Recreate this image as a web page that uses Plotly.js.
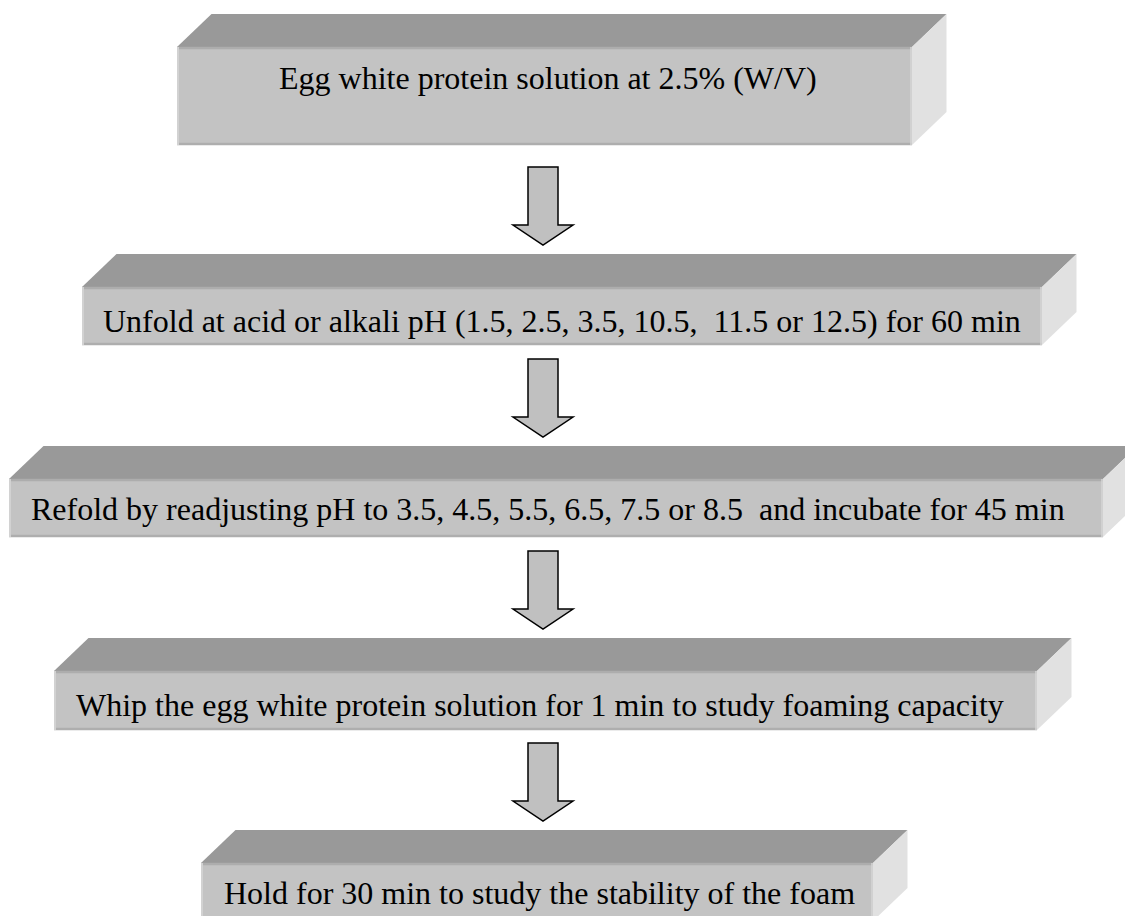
<!DOCTYPE html>
<html>
<head>
<meta charset="utf-8">
<script src="https://cdn.plot.ly/plotly-3.0.1.min.js"></script>
<style>html,body{margin:0;padding:0;background:#fff;}#chart{width:1125px;height:916px;}</style>
</head>
<body>
<div id="chart"></div>
<script>
// ---- data: flowchart steps ----
const steps = [
  "Egg white protein solution at 2.5% (W/V)",
  "Unfold at acid or alkali pH (1.5, 2.5, 3.5, 10.5,\u00a0 11.5 or 12.5) for 60 min",
  "Refold by readjusting pH to 3.5, 4.5, 5.5, 6.5, 7.5 or 8.5\u00a0 and incubate for 45 min",
  "Whip the egg white protein solution for 1 min to study foaming capacity",
  "Hold for 30 min to study the stability of the foam"
];

// ---- layout geometry (pixels in a 1125x916 frame) ----
const boxLeft   = [177, 82, 9, 54, 201];
const boxRight  = [912, 1042, 1103, 1037, 873];
const boxTop    = [47, 287, 479, 671, 863];
const boxBottom = [145, 345, 537, 730, 921];
const textLeft  = [277, 101, 29, 74, 222];
const textMidY  = [78, 321, 509, 705, 893];
const arrowTop  = [167, 359, 551, 743];
const arrowTip  = [245, 437, 629, 821];
const DX = 34.5, DY = 33;
const arrowCx = 543, shaftHalf = 15, headHalf = 30, headH = 20;

const topCol = "#999999", frontCol = "#c3c3c3", sideCol = "#e1e1e1";

const shapes = [];
function poly(pts, fill, line) {
  let d = "M" + pts.map(p => p[0] + "," + p[1]).join(" L") + " Z";
  shapes.push({type: "path", xref: "x", yref: "y", path: d, fillcolor: fill,
    line: line || {width: 0}, layer: "above"});
}
function seg(x0, y0, x1, y1, col, w) {
  shapes.push({type: "line", xref: "x", yref: "y", x0, y0, x1, y1,
    line: {color: col, width: w}, layer: "above"});
}

steps.forEach((s, i) => {
  const l = boxLeft[i], r = boxRight[i], t = boxTop[i], b = boxBottom[i];
  // top face
  poly([[l, t], [l + DX, t - DY], [r + DX, t - DY], [r, t]], topCol);
  // right side face
  poly([[r, t], [r + DX, t - DY], [r + DX, b - DY], [r, b]], sideCol);
  // front face
  poly([[l, t], [r, t], [r, b], [l, b]], frontCol);
  // bevel edges
  seg(l, t + 1, r, t + 1, "#adadad", 2.5);
  seg(l, b - 1, r, b - 1, "#aeaeae", 2.5);
  seg(l + 1, t, l + 1, b, "#d2d2d2", 2);
  seg(r - 1, t, r - 1, b, "#d6d6d6", 1.5);
});

arrowTop.forEach((a, i) => {
  const tip = arrowTip[i], hb = tip - headH;
  poly([[arrowCx - shaftHalf, a], [arrowCx + shaftHalf, a], [arrowCx + shaftHalf, hb],
        [arrowCx + headHalf, hb], [arrowCx, tip], [arrowCx - headHalf, hb],
        [arrowCx - shaftHalf, hb]], "#c0c0c0", {color: "#000", width: 1.5});
});

const annotations = steps.map((s, i) => ({
  x: textLeft[i], y: textMidY[i], xref: "x", yref: "y", text: s,
  showarrow: false, xanchor: "left", yanchor: "middle",
  font: {family: "Liberation Serif, Times New Roman, serif", size: 32, color: "#000"}
}));

const layout = {
  width: 1125, height: 916,
  margin: {l: 0, r: 0, t: 0, b: 0, pad: 0},
  paper_bgcolor: "#ffffff", plot_bgcolor: "#ffffff",
  xaxis: {range: [0, 1125], visible: false, fixedrange: true},
  yaxis: {range: [916, 0], visible: false, fixedrange: true},
  showlegend: false,
  shapes: shapes,
  annotations: annotations
};

Plotly.newPlot("chart", [{x: [], y: [], type: "scatter", mode: "markers", hoverinfo: "skip"}],
  layout, {displayModeBar: false, staticPlot: true});
</script>
</body>
</html>
